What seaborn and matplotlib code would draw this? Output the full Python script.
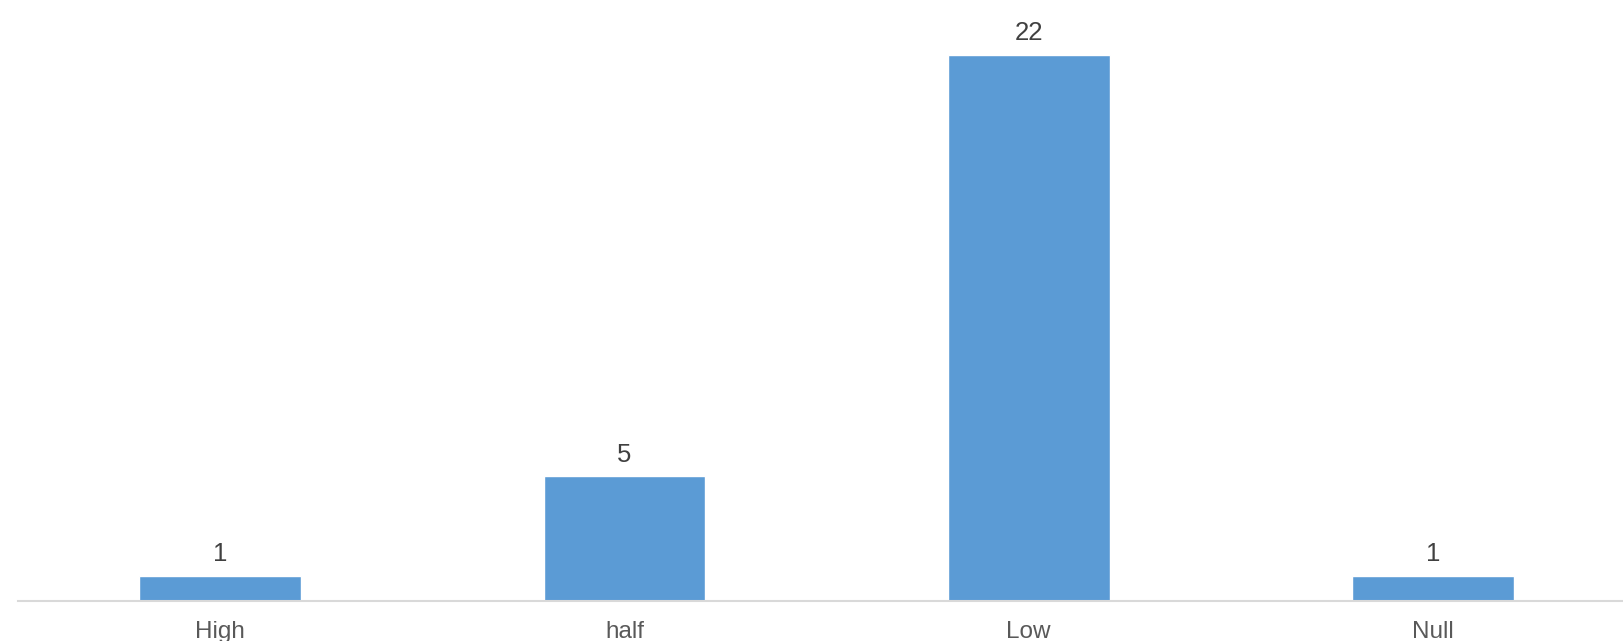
import matplotlib
matplotlib.use("Agg")
import matplotlib.pyplot as plt
import seaborn as sns
import pandas as pd

# data
categories = ["High", "half", "Low", "Null"]
counts = [1, 5, 22, 1]

sns.set_theme(style="white")
plt.rcParams['font.family'] = ['Liberation Sans', 'DejaVu Sans']

df = pd.DataFrame({"level": categories, "count": counts})

fig = plt.figure(figsize=(16.23, 6.41), dpi=100)
ax = fig.add_axes([18 / 1623, 40.5 / 641, 1 - 18 / 1623, 1 - 40.5 / 641])

sns.barplot(data=df, x="level", y="count", color="#5B9BD5", saturation=1,
            width=0.40, ax=ax)

ax.set_xlim(-0.5, 3.47)
ax.set_ylim(0, 24.2)

# value labels above bars
for c in ax.containers:
    ax.bar_label(c, padding=7, fontsize=18.5, color="#404040")

ax.set_xlabel("")
ax.set_ylabel("")
ax.set_yticks([])
ax.tick_params(axis="x", length=0, labelsize=17.5, labelcolor="#595959", pad=14.5)
for s in ["top", "right", "left"]:
    ax.spines[s].set_visible(False)
ax.spines["bottom"].set_color("#D9D9D9")
ax.spines["bottom"].set_linewidth(1.5)

fig.savefig("out.png", dpi=100)
